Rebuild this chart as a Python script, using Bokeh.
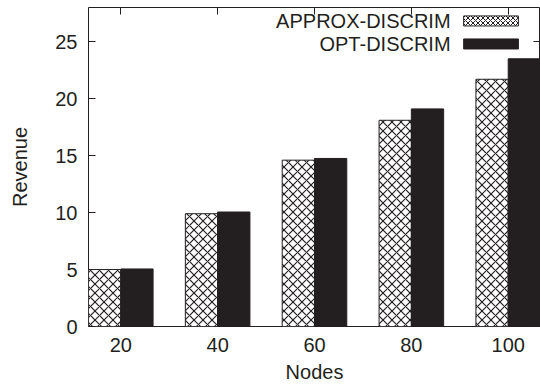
import numpy as np
from bokeh.plotting import figure
from bokeh.models import (FixedTicker, LinearAxis, Range1d, Label, BoxAnnotation)
from bokeh.embed import file_html
from bokeh.resources import INLINE

# ---- data ----
nodes = [20, 40, 60, 80, 100]
approx_discrim = [5.0, 9.9, 14.6, 18.1, 21.7]
opt_discrim = [5.05, 10.05, 14.75, 19.1, 23.5]
series_names = ["APPROX-DISCRIM", "OPT-DISCRIM"]
y_ticks = [0, 5, 10, 15, 20, 25]

FONT = "Liberation Sans"
INK = "#231f20"
FS = "20px"

step = nodes[1] - nodes[0]
bw = step / 3.0
xs = np.array(nodes, dtype=float)

p = figure(width=540, height=389, output_backend="svg", toolbar_location=None,
           x_range=Range1d(xs[0] - bw, xs[-1] + bw), y_range=Range1d(0, 28),
           min_border_left=88, min_border_right=0, min_border_top=7, min_border_bottom=63)
p.background_fill_color = "white"
p.border_fill_color = "white"
p.grid.visible = False
p.outline_line_color = INK
p.outline_line_width = 1

# bars
p.vbar(x=xs - bw / 2, top=approx_discrim, width=bw, bottom=0,
       fill_color="white", line_color=INK, line_width=1,
       hatch_pattern="diagonal_cross", hatch_color=INK, hatch_scale=9, hatch_weight=1.2)
p.vbar(x=xs + bw / 2, top=opt_discrim, width=bw, bottom=0,
       fill_color=INK, line_color=INK, line_width=1)

def style_axis(ax):
    ax.axis_line_color = None
    ax.major_tick_in = 7
    ax.major_tick_out = 0
    ax.minor_tick_line_color = None
    ax.major_tick_line_color = INK
    ax.major_label_text_font = FONT
    ax.major_label_text_color = INK
    ax.major_label_text_font_size = FS
    ax.axis_label_text_font = FONT
    ax.axis_label_text_color = INK
    ax.axis_label_text_font_style = "normal"
    ax.axis_label_text_font_size = FS

xa = p.xaxis[0]
xa.ticker = FixedTicker(ticks=nodes)
xa.axis_label = "Nodes"
style_axis(xa)
xa.major_label_standoff = 11
xa.axis_label_standoff = 6

ya = p.yaxis[0]
ya.ticker = FixedTicker(ticks=y_ticks)
ya.axis_label = "Revenue"
style_axis(ya)
ya.major_label_standoff = 11
ya.axis_label_standoff = 21

# mirrored tick marks (gnuplot style) on top and right, without labels
top_ax = LinearAxis(ticker=FixedTicker(ticks=nodes))
style_axis(top_ax)
top_ax.major_label_overrides = {t: "" for t in nodes}
top_ax.major_label_standoff = 0
p.add_layout(top_ax, "above")
right_ax = LinearAxis(ticker=FixedTicker(ticks=y_ticks))
style_axis(right_ax)
right_ax.major_label_overrides = {t: "" for t in y_ticks}
right_ax.major_label_standoff = 0
p.add_layout(right_ax, "right")

# legend (label left of swatch, gnuplot style), positioned in data space
leg_text_x = 88.1
sw_left, sw_right = 90.8, 102.1
rows_y = [26.82, 24.8]
sw_half = 0.44
for i, name in enumerate(series_names):
    p.add_layout(Label(x=leg_text_x, y=rows_y[i], text=name, text_align="right",
                       text_baseline="middle", text_font=FONT, text_font_size=FS,
                       text_color=INK))
hatch_box = BoxAnnotation(left=sw_left, right=sw_right, bottom=rows_y[0] - sw_half,
                          top=rows_y[0] + sw_half, fill_color="white", fill_alpha=1,
                          line_color=INK, line_width=1, line_alpha=1,
                          hatch_pattern="diagonal_cross", hatch_color=INK,
                          hatch_scale=5, hatch_weight=1)
solid_box = BoxAnnotation(left=sw_left, right=sw_right, bottom=rows_y[1] - sw_half,
                          top=rows_y[1] + sw_half, fill_color=INK, fill_alpha=1,
                          line_color=INK, line_width=1, line_alpha=1)
p.add_layout(hatch_box)
p.add_layout(solid_box)

open("out.html", "w").write(file_html(p, INLINE))
